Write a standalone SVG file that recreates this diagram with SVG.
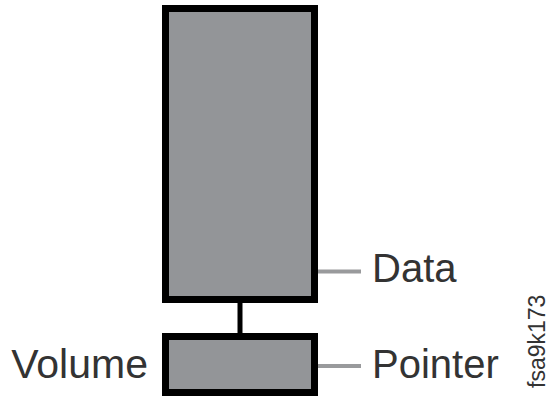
<svg xmlns="http://www.w3.org/2000/svg" width="550" height="398" viewBox="0 0 550 398">
<style>
.box{fill:#939598;stroke:#000;stroke-width:7}
.lead{stroke:#999a9c;stroke-width:4}
.link{stroke:#000;stroke-width:5}
.lbl{font-family:"Liberation Sans",Arial,sans-serif;font-size:40px;fill:#333}
.id{font-family:"Liberation Sans",Arial,sans-serif;font-size:23px;fill:#333}
</style>
<rect width="550" height="398" fill="#fff"/>
<g id="connectors">
<line class="link" x1="240" y1="302" x2="240" y2="334"/>
<line class="lead" x1="318" y1="271.5" x2="361" y2="271.5"/>
<line class="lead" x1="318" y1="366" x2="361" y2="366"/>
</g>
<g id="data">
<rect class="box" x="165.5" y="8.5" width="149" height="291"/>
<text class="lbl" x="372" y="282">Data</text>
</g>
<g id="pointer">
<rect class="box" x="165.5" y="336.5" width="149" height="56"/>
<text class="lbl" x="372" y="378">Pointer</text>
</g>
<g id="volume">
<text class="lbl" x="148" y="378" text-anchor="end" style="font-size:41px">Volume</text>
</g>
<text class="id" transform="translate(545,388) rotate(-90)">fsa9k173</text>
</svg>
